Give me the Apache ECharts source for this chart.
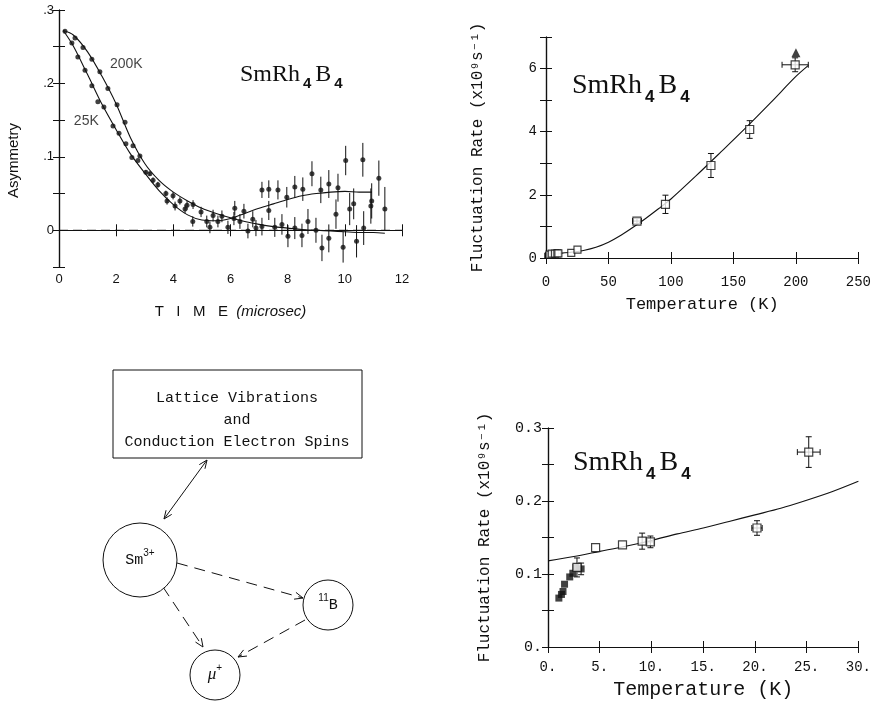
<!DOCTYPE html>
<html>
<head>
<meta charset="utf-8">
<script src="https://cdn.jsdelivr.net/npm/echarts@6/dist/echarts.min.js"></script>
<style>
  html, body { margin: 0; padding: 0; background: #fff; }
  #chart { width: 874px; height: 706px; }
</style>
</head>
<body>
<div id="chart"></div>
<script>
// ---- muon asymmetry vs time (microsec), two temperatures ----
const time25 = [0.21, 0.45, 0.66, 0.91, 1.15, 1.36, 1.57, 1.89, 2.10, 2.34, 2.55, 2.76, 3.04, 3.29, 3.46, 3.78, 4.06, 4.41, 4.68, 4.97, 5.17, 5.28, 5.56, 5.91, 6.15, 6.47, 7.10, 7.34, 7.66, 7.97, 8.25, 8.53, 8.85, 9.16, 9.44, 9.76, 10.03, 10.31, 10.63, 10.94, 11.19, 11.40];
const asym25 = [0.271, 0.255, 0.236, 0.218, 0.197, 0.175, 0.168, 0.142, 0.132, 0.118, 0.099, 0.095, 0.079, 0.068, 0.062, 0.040, 0.033, 0.029, 0.012, 0.025, 0.012, 0.004, 0.012, 0.004, 0.030, 0.026, 0.055, 0.056, 0.055, 0.045, 0.059, 0.056, 0.077, 0.055, 0.063, 0.058, 0.095, 0.036, 0.096, 0.040, 0.071, 0.029];
const err25 = [0, 0, 0, 0, 0, 0, 0, 0, 0, 0, 0, 0, 0.003, 0.004, 0.004, 0.005, 0.006, 0.006, 0.007, 0.007, 0.008, 0.008, 0.008, 0.009, 0.010, 0.010, 0.011, 0.012, 0.013, 0.014, 0.015, 0.016, 0.017, 0.018, 0.019, 0.019, 0.020, 0.021, 0.023, 0.024, 0.024, 0.030];

const time200 = [0.56, 0.84, 1.15, 1.43, 1.71, 2.03, 2.31, 2.59, 2.83, 3.18, 3.74, 3.99, 4.23, 4.48, 4.69, 5.39, 5.70, 6.12, 6.33, 6.61, 6.78, 6.89, 7.10, 7.34, 7.55, 7.80, 8.01, 8.25, 8.50, 8.71, 8.99, 9.20, 9.44, 9.69, 9.94, 10.17, 10.41, 10.66, 10.91];
const asym200 = [0.262, 0.249, 0.233, 0.216, 0.193, 0.171, 0.147, 0.115, 0.101, 0.077, 0.050, 0.047, 0.040, 0.034, 0.035, 0.020, 0.019, 0.016, 0.012, -0.001, 0.015, 0.003, 0.005, 0.027, 0.004, 0.008, -0.008, 0.003, -0.007, 0.012, 0.000, -0.024, -0.011, 0.022, -0.023, 0.029, -0.015, 0.003, 0.033];
const err200 = [0, 0, 0, 0, 0, 0, 0, 0, 0, 0.003, 0.004, 0.005, 0.005, 0.006, 0.006, 0.008, 0.008, 0.009, 0.010, 0.010, 0.011, 0.011, 0.012, 0.013, 0.013, 0.014, 0.015, 0.015, 0.016, 0.017, 0.017, 0.018, 0.019, 0.020, 0.021, 0.022, 0.022, 0.023, 0.024];

// fitted relaxation functions
const fitTime25 = [0.15, 0.5, 1.0, 1.5, 2.0, 2.5, 3.0, 3.5, 4.0, 4.5, 5.0, 5.5, 6.0, 6.5, 7.0, 7.5, 8.0, 8.5, 9.0, 9.5, 10.0, 10.5, 10.95];
const fitAsym25 = [0.272, 0.251, 0.212, 0.172, 0.137, 0.104, 0.078, 0.054, 0.035, 0.021, 0.014, 0.013, 0.016, 0.023, 0.030, 0.036, 0.042, 0.047, 0.050, 0.052, 0.053, 0.052, 0.052];
const fitTime200 = [0.15, 0.5, 1.0, 1.5, 2.0, 2.5, 3.0, 3.5, 4.0, 4.5, 5.0, 5.5, 6.0, 6.5, 7.0, 7.5, 8.0, 8.5, 9.0, 9.5, 10.0, 10.5, 11.0, 11.4];
const fitAsym200 = [0.272, 0.266, 0.243, 0.210, 0.172, 0.126, 0.091, 0.068, 0.052, 0.040, 0.030, 0.023, 0.017, 0.012, 0.008, 0.005, 0.003, 0.001, 0.000, -0.001, -0.002, -0.003, -0.003, -0.004];

const baselineTime = [0, 12];
const baselineAsym = [0, 0];

const curveNames = ['200K', '25K'];
const curveLabelTime = [1.78, 0.52];
const curveLabelAsym = [0.226, 0.148];

// ---- fluctuation rate (x10^9 s^-1) vs temperature (K) ----
const lowOpenT = [2.8, 4.6, 7.2, 9.1, 9.9, 20.2, 25.2];
const lowOpenRate = [0.109, 0.136, 0.140, 0.145, 0.144, 0.163, 0.267];
const lowOpenRateErr = [0.013, 0, 0, 0.011, 0.008, 0.010, 0.021];
const lowOpenTErr = [0, 0, 0, 0, 0.3, 0.5, 1.1];

const lowFilledT = [1.05, 1.3, 1.45, 1.6, 2.1, 2.4, 2.7, 3.2];
const lowFilledRate = [0.067, 0.072, 0.076, 0.086, 0.096, 0.101, 0.109, 0.107];
const lowFilledRateErr = [0, 0, 0, 0, 0, 0, 0, 0.008];

const highT = [72.8, 95.6, 132, 163, 199.4];
const highRate = [1.17, 1.70, 2.93, 4.07, 6.12];
const highRateErr = [0.08, 0.29, 0.38, 0.28, 0.22];
const highTErr = [3.5, 0, 0, 0, 10.5];

const triangleT = [200];
const triangleRate = [6.5];

const rateFitT = [2, 10, 20, 30, 40, 50, 60, 70, 80, 90, 100, 120, 140, 160, 180, 200, 210];
const rateFit = [0.12, 0.146, 0.181, 0.24, 0.34, 0.50, 0.72, 0.98, 1.26, 1.56, 1.87, 2.60, 3.36, 4.13, 4.93, 5.75, 6.10];

const lowFitT = [0, 2.5, 5, 7.5, 10, 12.5, 15, 17.5, 20, 22.5, 25, 27.5, 30];
const lowFit = [0.118, 0.124, 0.131, 0.138, 0.146, 0.155, 0.163, 0.172, 0.181, 0.190, 0.201, 0.213, 0.227];

// ---------------------------------------------------------------
const INK = '#111';
const SANS = '"Liberation Sans", Arial, sans-serif';
const MONO = '"Liberation Mono", "DejaVu Sans Mono", monospace';
const SERIF = '"Liberation Serif", "DejaVu Serif", serif';

const pairs = (xs, ys) => xs.map((x, i) => [x, ys[i]]);
const withErr = (xs, ys, ey, ex) => xs.map((x, i) => [x, ys[i], ey ? ey[i] : 0, ex ? ex[i] : 0]);

function errorBars(axisIndex, data, cap) {
  return {
    type: 'custom', xAxisIndex: axisIndex, yAxisIndex: axisIndex, data, silent: true, z: 2,
    encode: { x: 0, y: 1 },
    renderItem(params, api) {
      const x = api.value(0), y = api.value(1), ey = api.value(2), ex = api.value(3);
      const st = { stroke: INK, lineWidth: 1 };
      const kids = [];
      if (ey > 0) {
        const a = api.coord([x, y + ey]), b = api.coord([x, y - ey]);
        kids.push({ type: 'line', shape: { x1: a[0], y1: a[1], x2: b[0], y2: b[1] }, style: st });
        if (cap) {
          kids.push({ type: 'line', shape: { x1: a[0] - cap, y1: a[1], x2: a[0] + cap, y2: a[1] }, style: st });
          kids.push({ type: 'line', shape: { x1: b[0] - cap, y1: b[1], x2: b[0] + cap, y2: b[1] }, style: st });
        }
      }
      if (ex > 0) {
        const a = api.coord([x - ex, y]), b = api.coord([x + ex, y]);
        kids.push({ type: 'line', shape: { x1: a[0], y1: a[1], x2: b[0], y2: b[1] }, style: st });
        if (cap) {
          kids.push({ type: 'line', shape: { x1: a[0], y1: a[1] - cap, x2: a[0], y2: a[1] + cap }, style: st });
          kids.push({ type: 'line', shape: { x1: b[0], y1: b[1] - cap, x2: b[0], y2: b[1] + cap }, style: st });
        }
      }
      return { type: 'group', children: kids };
    }
  };
}

// one framed box: bottom/left axes carry labels, top/right axes only ticks
function frame(grid, xr, yr) {
  const line = { show: true, lineStyle: { color: INK, width: 1.2 } };
  const tick = { show: true, inside: true, length: 6, lineStyle: { color: INK, width: 1 } };
  const base = (r) => ({ min: r.min, max: r.max, interval: r.interval, type: 'value', gridIndex: grid,
    axisLine: line, axisTick: tick, splitLine: { show: false }, minorTick: { show: false } });
  const xs = [
    Object.assign(base(xr), { position: 'bottom', axisLabel: xr.label, name: xr.name, nameLocation: 'middle',
      nameGap: xr.nameGap, nameTextStyle: xr.nameStyle }),
    Object.assign(base(xr), { position: 'top', axisLabel: { show: false } })
  ];
  const ys = [
    Object.assign(base(yr), { position: 'left', axisLabel: yr.label, name: yr.name, nameLocation: 'middle',
      nameRotate: 90, nameGap: yr.nameGap, nameTextStyle: yr.nameStyle }),
    Object.assign(base(yr), { position: 'right', axisLabel: { show: false } })
  ];
  return { xs, ys };
}

const tl = frame(0,
  { min: 0, max: 12, interval: 2, name: '{a|T   I   M   E}  {b|(microsec)}', nameGap: 37,
    nameStyle: { color: INK, fontFamily: SANS, fontSize: 15,
      rich: { a: { fontFamily: SANS, fontSize: 15, color: INK }, b: { fontFamily: SANS, fontSize: 15, fontStyle: 'italic', color: INK } } },
    label: { color: INK, fontFamily: SANS, fontSize: 13, margin: 6 } },
  { min: -0.05, max: 0.3, interval: 0.05, name: 'Asymmetry', nameGap: 38,
    nameStyle: { color: INK, fontFamily: SANS, fontSize: 15, padding: [0, 44, 0, 0] },
    label: { color: INK, fontFamily: SANS, fontSize: 13, margin: 5,
      formatter: v => { const k = Math.round(v * 20); if (k < 0 || k % 2) return ''; return k === 0 ? '0' : '.' + (k / 2); } } });

const rateName = 'Fluctuation Rate (x10\u2079s\u207B\u00B9)';
const tr = frame(1,
  { min: 0, max: 250, interval: 50, name: 'Temperature (K)', nameGap: 38,
    nameStyle: { color: INK, fontFamily: MONO, fontSize: 17 },
    label: { color: INK, fontFamily: MONO, fontSize: 14, margin: 17 } },
  { min: 0, max: 7, interval: 1, name: rateName, nameGap: 60,
    nameStyle: { color: INK, fontFamily: MONO, fontSize: 16 },
    label: { color: INK, fontFamily: MONO, fontSize: 14, margin: 9, formatter: v => (v % 2 === 0 ? String(v) : '') } });

const br = frame(2,
  { min: 0, max: 30, interval: 5, name: 'Temperature (K)', nameGap: 33,
    nameStyle: { color: INK, fontFamily: MONO, fontSize: 20 },
    label: { color: INK, fontFamily: MONO, fontSize: 14, margin: 13, formatter: v => v + '.' } },
  { min: 0, max: 0.3, interval: 0.05, name: rateName, nameGap: 55,
    nameStyle: { color: INK, fontFamily: MONO, fontSize: 16 },
    label: { color: INK, fontFamily: MONO, fontSize: 15, margin: 6,
      formatter: v => { const k = Math.round(v * 20); if (k % 2) return ''; return k === 0 ? '0.' : '0.' + (k / 2); } } });

// axis index bookkeeping: grid g -> bottom/left = 2g, top/right = 2g+1
const xAxis = [...tl.xs, ...tr.xs, ...br.xs];
const yAxis = [...tl.ys, ...tr.ys, ...br.ys];

const dot = { color: INK };
const openSq = { color: '#fff', borderColor: INK, borderWidth: 1.2 };

const series = [
  // asymmetry panel
  { type: 'line', xAxisIndex: 0, yAxisIndex: 0, data: pairs(baselineTime, baselineAsym), showSymbol: false,
    lineStyle: { color: INK, width: 1, type: [9, 5] }, silent: true },
  { type: 'line', xAxisIndex: 0, yAxisIndex: 0, data: pairs(fitTime200, fitAsym200), showSymbol: false, smooth: 0.3,
    lineStyle: { color: INK, width: 1.1 }, silent: true },
  { type: 'line', xAxisIndex: 0, yAxisIndex: 0, data: pairs(fitTime25, fitAsym25), showSymbol: false, smooth: 0.3,
    lineStyle: { color: INK, width: 1.1 }, silent: true },
  errorBars(0, withErr(time25, asym25, err25), 0),
  errorBars(0, withErr(time200, asym200, err200), 0),
  { type: 'scatter', xAxisIndex: 0, yAxisIndex: 0, data: pairs(time25, asym25), symbol: 'circle', symbolSize: 5, itemStyle: dot, z: 3 },
  { type: 'scatter', xAxisIndex: 0, yAxisIndex: 0, data: pairs(time200, asym200), symbol: 'circle', symbolSize: 5, itemStyle: dot, z: 3 },
  { type: 'scatter', xAxisIndex: 0, yAxisIndex: 0, symbolSize: 0,
    data: curveNames.map((n, i) => [curveLabelTime[i], curveLabelAsym[i], n]),
    label: { show: true, position: 'right', distance: 0, formatter: p => p.data[2], color: INK, fontFamily: SANS, fontSize: 14 } },

  // rate vs temperature, full range
  { type: 'line', xAxisIndex: 2, yAxisIndex: 2, data: pairs(rateFitT, rateFit), showSymbol: false, smooth: 0.3,
    lineStyle: { color: INK, width: 1.1 }, silent: true },
  errorBars(2, withErr(highT, highRate, highRateErr, highTErr), 3),
  { type: 'scatter', xAxisIndex: 2, yAxisIndex: 2, data: pairs(lowFilledT, lowFilledRate), symbol: 'rect', symbolSize: 6, itemStyle: dot, z: 3 },
  { type: 'scatter', xAxisIndex: 2, yAxisIndex: 2, data: pairs(lowOpenT, lowOpenRate), symbol: 'rect', symbolSize: 7, itemStyle: openSq, z: 3 },
  { type: 'scatter', xAxisIndex: 2, yAxisIndex: 2, data: pairs(highT, highRate), symbol: 'rect', symbolSize: 8, itemStyle: openSq, z: 3 },
  { type: 'scatter', xAxisIndex: 2, yAxisIndex: 2, data: pairs(triangleT, triangleRate), symbol: 'triangle', symbolSize: 9, itemStyle: dot, z: 3 },

  // rate vs temperature, low-temperature detail
  { type: 'line', xAxisIndex: 4, yAxisIndex: 4, data: pairs(lowFitT, lowFit), showSymbol: false, smooth: 0.3,
    lineStyle: { color: INK, width: 1.1 }, silent: true },
  errorBars(4, withErr(lowOpenT, lowOpenRate, lowOpenRateErr, lowOpenTErr), 3),
  errorBars(4, withErr(lowFilledT, lowFilledRate, lowFilledRateErr), 3),
  { type: 'scatter', xAxisIndex: 4, yAxisIndex: 4, data: pairs(lowFilledT, lowFilledRate), symbol: 'rect', symbolSize: 7, itemStyle: dot, z: 3 },
  { type: 'scatter', xAxisIndex: 4, yAxisIndex: 4, data: pairs(lowOpenT, lowOpenRate), symbol: 'rect', symbolSize: 8, itemStyle: openSq, z: 3 }
];

// ---- compound label and coupling diagram ----
// text box top = baseline - 0.84*size (main tokens top-aligned, lineHeight = size)
function formula(x, baseline, size) {
  const sub = Math.round(size * 0.62);
  return {
    type: 'text', x, y: baseline - 0.84 * size, silent: true,
    style: {
      text: '{n|SmRh}{s|4}{n|B}{s|4}', align: 'left', verticalAlign: 'top',
      rich: {
        n: { fontFamily: SERIF, fontSize: size, lineHeight: size, fill: INK, verticalAlign: 'top' },
        s: { fontFamily: SANS, fontWeight: 'bold', fontSize: sub, fill: INK, verticalAlign: 'top',
             padding: [Math.round(0.84 * size + 3 - sub * 0.58), 4, 0, 3] }
      }
    }
  };
}

function arrowHead(tip, from, len, spread) {
  const ang = Math.atan2(tip[1] - from[1], tip[0] - from[0]);
  const p1 = [tip[0] - len * Math.cos(ang - spread), tip[1] - len * Math.sin(ang - spread)];
  const p2 = [tip[0] - len * Math.cos(ang + spread), tip[1] - len * Math.sin(ang + spread)];
  return { type: 'polyline', silent: true, shape: { points: [p1, tip, p2] }, style: { fill: null, stroke: INK, lineWidth: 1 } };
}
function link(from, to, dashed, both) {
  const items = [{ type: 'line', silent: true, shape: { x1: from[0], y1: from[1], x2: to[0], y2: to[1] },
    style: { stroke: INK, lineWidth: 1, lineDash: dashed ? [11, 7] : null } }];
  items.push(arrowHead(to, from, 9, 0.4));
  if (both) items.push(arrowHead(from, to, 9, 0.4));
  return items;
}
// circle with a label; rich text lets the charge / mass number sit raised
function node(cx, cy, r, text) {
  return [
    { type: 'circle', silent: true, shape: { cx, cy, r }, style: { fill: '#fff', stroke: INK, lineWidth: 1 } },
    { type: 'text', silent: true, x: cx, y: cy - 2, style: { text, align: 'center', verticalAlign: 'middle',
      rich: {
        m: { fontFamily: MONO, fontSize: 15, fill: INK, verticalAlign: 'top', padding: [4, 0, 0, 0] },
        g: { fontFamily: SERIF, fontStyle: 'italic', fontSize: 17, fill: INK, verticalAlign: 'top', padding: [3, 0, 0, 0] },
        u: { fontFamily: SANS, fontSize: 10, fill: INK, verticalAlign: 'top' }
      } } }
  ];
}

const diagram = [
  { type: 'rect', silent: true, shape: { x: 113, y: 370, width: 249, height: 88 }, style: { fill: '#fff', stroke: INK, lineWidth: 1 } },
  { type: 'text', silent: true, x: 237, y: 420, style: { text: 'Lattice Vibrations\nand\nConduction Electron Spins',
    align: 'center', verticalAlign: 'middle', lineHeight: 22, fontFamily: MONO, fontSize: 15, fill: INK } },
  ...link([207, 460], [164, 519], false, true),
  ...link([177, 563], [303, 598], true, false),
  ...link([163, 587], [203, 647], true, false),
  ...link([305, 620], [238, 657], true, false),
  ...node(140, 560, 37, '{m|Sm}{u|3+}'),
  ...node(328, 605, 25, '{u|11}{m|B}'),
  ...node(215, 675, 25, '{g|\u03BC}{u|+}')
];

const chart = echarts.init(document.getElementById('chart'));
chart.setOption({
  backgroundColor: '#fff',
  animation: false,
  grid: [
    { left: 59, top: 10, width: 343, height: 257 },
    { left: 546, top: 37, width: 316, height: 221 },
    { left: 548, top: 428, width: 317, height: 219 }
  ],
  xAxis,
  yAxis,
  series,
  graphic: [
    formula(240, 83, 24),
    formula(572, 95, 28),
    formula(573, 472, 28),
    ...diagram
  ]
});
</script>
</body>
</html>
